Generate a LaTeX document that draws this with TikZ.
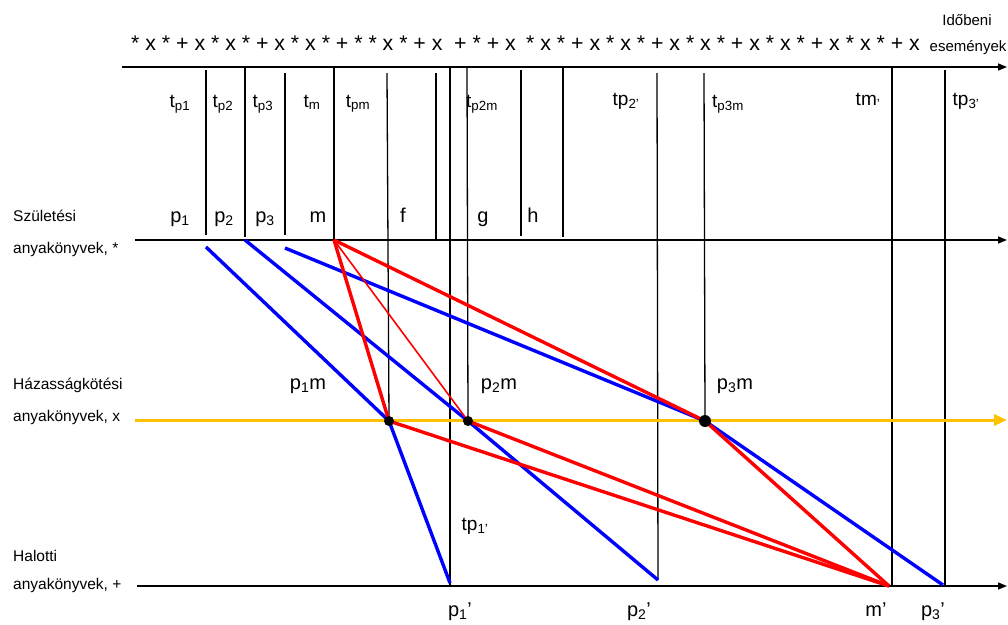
\documentclass[tikz,border=0pt]{standalone}
\usepackage{fontspec}
\setmainfont{Liberation Sans}
\usetikzlibrary{arrows.meta}
\definecolor{myblue}{RGB}{0,0,255}
\definecolor{myred}{RGB}{255,0,0}
\definecolor{mygold}{RGB}{255,192,0}
\begin{document}
\begin{tikzpicture}[x=1pt,y=-1pt,
  axisline/.style={line width=1.4pt,-{Triangle[length=9pt,width=7pt]}},
  goldline/.style={mygold,line width=3pt,-{Triangle[length=13pt,width=11pt]}},
  vline/.style={line width=1.3pt},
  blueline/.style={myblue,line width=3.4pt},
  redthick/.style={myred,line width=3.4pt},
  redthin/.style={myred,line width=1.6pt},
  dot/.style={circle,fill=black,inner sep=0pt,minimum size=#1},
  lbl/.style={inner sep=0pt,anchor=base,font=\fontsize{20}{24}\selectfont},
  tlbl/.style={inner sep=0pt,anchor=base,font=\fontsize{19}{22}\selectfont},
  leg/.style={inner sep=0pt,anchor=base west,font=\fontsize{15.5}{18}\selectfont},
  sym/.style={inner sep=0pt,anchor=base west,font=\fontsize{21.3}{24}\selectfont},
  head/.style={inner sep=0pt,anchor=base,font=\fontsize{15}{18}\selectfont}
]
\useasboundingbox (0,0) rectangle (1008,624);

% ---- key points
\coordinate (T0) at (122,67);  \coordinate (T1) at (1007,67);
\coordinate (B0) at (135,240); \coordinate (B1) at (1007,240);
\coordinate (Y0) at (135,420); \coordinate (Y1) at (1007,420);
\coordinate (D0) at (137,586); \coordinate (D1) at (1007,586);

\coordinate (P1) at (206,247);
\coordinate (P2) at (245,240);
\coordinate (P3) at (285,248);
\coordinate (M)  at (334,240);
\coordinate (P1M) at (389,421);
\coordinate (P2M) at (468,421);
\coordinate (P3M) at (705,421);
\coordinate (P1d) at (450,583);
\coordinate (P2d) at (658,580);
\coordinate (P3d) at (943,585);
\coordinate (Md)  at (889,586);

% ---- vertical time lines
\foreach \n/\x/\ya/\yb in {a/206/70/235, b/245/67/237, c/285/73/235, d/334/67/240,
  f/436/73/240, g/450/67/586, h/521/70/236, i/563/67/237, j/892/67/586, k/945/70/586}{
  \coordinate (v\n1) at (\x,\ya);
  \coordinate (v\n2) at (\x,\yb);
  \draw[vline] (v\n1) -- (v\n2);
}
\coordinate (ve1) at (387,73);
\draw[vline] (ve1) -- (P1M);
\coordinate (vl1) at (467,67);
\draw[vline] (vl1) -- (P2M);
\coordinate (vm1) at (657,73);
\draw[vline] (vm1) -- (P2d);
\coordinate (vn1) at (704,73);
\draw[vline] (vn1) -- (P3M);

% ---- horizontal axes
\draw[axisline] (T0) -- (T1);
\draw[axisline] (B0) -- (B1);
\draw[axisline] (D0) -- (D1);
\draw[goldline] (Y0) -- (Y1);

% ---- blue life lines
\draw[blueline] (P1) -- (P1M) -- (P1d);
\draw[blueline] (P2) -- (P2M) -- (P2d);
\draw[blueline] (P3) -- (P3M) -- (P3d);

% ---- red lines
\draw[redthin] (M) -- (P2M);
\draw[redthick] (M) -- (P1M);
\draw[redthick] (M) -- (P3M);
\draw[redthick] (P1M) -- (Md);
\draw[redthick] (P2M) -- (Md);
\draw[redthick] (P3M) -- (Md);

% ---- marriage dots
\node[dot=10pt] (d1) at (P1M) {};
\node[dot=10pt] (d2) at (P2M) {};
\node[dot=12pt] (d3) at (P3M) {};

% ---- top symbol row
\node[sym] (sA) at (131,50) {* x * + x * x * + x * x * + * * x * + x};
\node[sym] (sB) at (454,50) {+ * + x};
\node[sym] (sC) at (526,50) {* x * + x * x * + x * x * + x * x * + x * x * + x};
\node[head] (h1) at (967,25) {Időbeni};
\node[head] (h2) at (968,51) {események};

% ---- time labels
\node[tlbl] (tp1) at (180,107) {t\textsubscript{p1}};
\node[tlbl] (tp2) at (223,107) {t\textsubscript{p2}};
\node[tlbl] (tp3) at (263,107) {t\textsubscript{p3}};
\node[tlbl] (tm)  at (312,107) {t\textsubscript{m}};
\node[tlbl] (tpm) at (358,107) {t\textsubscript{pm}};
\node[tlbl] (tp2m) at (482,107) {t\textsubscript{p2m}};
\node[tlbl] (tp2v) at (626,105) {tp\textsubscript{2'}};
\node[tlbl] (tp3m) at (728,107) {t\textsubscript{p3m}};
\node[tlbl] (tmv) at (868,105) {tm\textsubscript{'}};
\node[tlbl] (tp3v) at (966,105) {tp\textsubscript{3'}};
\node[tlbl] (tp1v) at (475,530) {tp\textsubscript{1'}};

% ---- birth row labels
\node[lbl] (lp1) at (180,222) {p\textsubscript{1}};
\node[lbl] (lp2) at (224,222) {p\textsubscript{2}};
\node[lbl] (lp3) at (265,222) {p\textsubscript{3}};
\node[lbl] (lm)  at (318,222) {m};
\node[lbl] (lf)  at (403,222) {f};
\node[lbl] (lg)  at (483,222) {g};
\node[lbl] (lh)  at (533,222) {h};

% ---- marriage labels
\node[lbl] (lp1m) at (308,389) {p\textsubscript{1}m};
\node[lbl] (lp2m) at (499,389) {p\textsubscript{2}m};
\node[lbl] (lp3m) at (735,389) {p\textsubscript{3}m};

% ---- death labels
\node[lbl] (dp1) at (460,616) {p\textsubscript{1}'};
\node[lbl] (dp2) at (639,616) {p\textsubscript{2}'};
\node[lbl] (dm)  at (876,616) {m'};
\node[lbl] (dp3) at (933,616) {p\textsubscript{3}'};

% ---- legend
\node[leg] (g1) at (13,221) {Születési};
\node[leg] (g2) at (13,253) {anyakönyvek, *};
\node[leg] (g3) at (13,389) {Házasságkötési};
\node[leg] (g4) at (13,421) {anyakönyvek, x};
\node[leg] (g5) at (13,561) {Halotti};
\node[leg] (g6) at (13,589) {anyakönyvek, +};
\end{tikzpicture}
\end{document}
